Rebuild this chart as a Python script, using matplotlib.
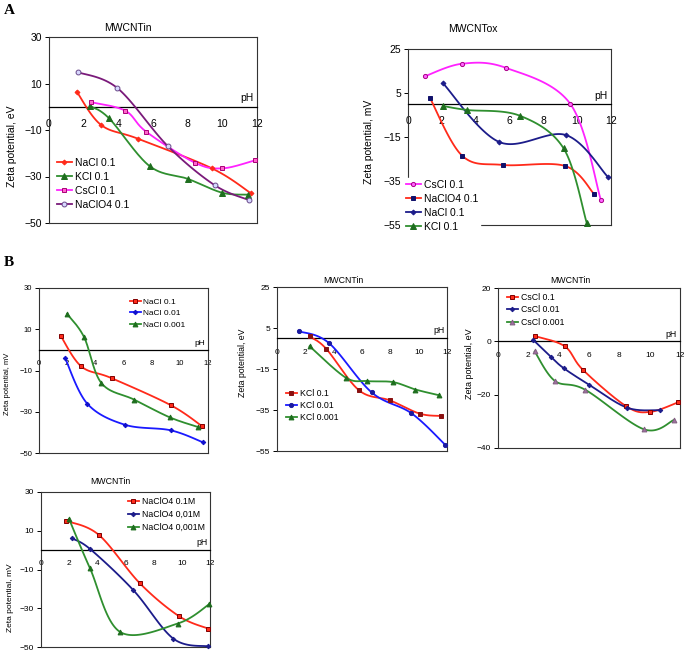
import numpy as np
import matplotlib
matplotlib.use("Agg")
import matplotlib.pyplot as plt
from matplotlib.lines import Line2D

plt.rcParams['font.family'] = ['Liberation Sans', 'DejaVu Sans']

W, H = 685, 651

# ---------------- data ----------------
# Panel A left: MWCNTin, 0.1 M
a1_nacl_x = [1.6, 3.0, 5.15, 9.4, 11.65]
a1_nacl_y = [6.5, -7.8, -13.8, -26.5, -37.2]
a1_kcl_x = [2.35, 3.47, 5.8, 8.0, 10.0, 11.5]
a1_kcl_y = [0.4, -5.0, -25.5, -31.0, -37.0, -37.8]
a1_cscl_x = [2.4, 4.4, 5.6, 8.4, 10.0, 11.9]
a1_cscl_y = [2.0, -1.7, -10.7, -24.0, -26.5, -23.0]
a1_naclo4_x = [1.65, 3.95, 6.85, 9.55, 11.55]
a1_naclo4_y = [14.9, 8.0, -16.9, -33.7, -40.2]

# Panel A right: MWCNTox, 0.1 M
a2_cscl_x = [1.0, 3.2, 5.8, 9.6, 11.4]
a2_cscl_y = [12.6, 18.3, 16.4, 0.0, -43.6]
a2_naclo4_x = [1.3, 3.2, 5.6, 9.3, 11.0]
a2_naclo4_y = [2.7, -23.5, -27.7, -28.2, -40.9]
a2_nacl_x = [2.07, 5.4, 9.33, 11.8]
a2_nacl_y = [9.4, -17.3, -14.1, -33.0]
a2_kcl_x = [2.07, 3.48, 6.6, 9.2, 10.56]
a2_kcl_y = [-0.9, -2.7, -5.3, -20.2, -53.9]

# Panel B1: NaCl
b1_01_x = [1.55, 3.0, 5.15, 9.35, 11.6]
b1_01_y = [6.7, -8.0, -13.7, -26.8, -37.1]
b1_001_x = [1.85, 3.43, 6.1, 9.35, 11.64]
b1_001_y = [-3.9, -26.1, -36.3, -39.0, -44.8]
b1_0001_x = [2.0, 3.2, 4.43, 6.75, 9.28, 11.29]
b1_0001_y = [17.4, 6.2, -16.1, -24.1, -32.7, -37.4]

# Panel B2: KCl
b2_01_x = [2.3, 3.47, 5.79, 7.97, 10.08, 11.6]
b2_01_y = [0.9, -5.1, -25.4, -30.3, -36.8, -37.9]
b2_001_x = [1.55, 3.66, 6.68, 9.49, 11.88]
b2_001_y = [3.4, -2.3, -26.4, -36.6, -52.0]
b2_0001_x = [2.3, 4.85, 6.37, 8.2, 9.77, 11.44]
b2_0001_y = [-3.9, -19.2, -20.9, -21.4, -25.0, -27.8]

# Panel B3: CsCl
b3_01_x = [2.42, 4.4, 5.6, 8.44, 10.0, 11.9]
b3_01_y = [2.0, -1.85, -10.7, -24.3, -26.5, -22.8]
b3_001_x = [2.31, 3.5, 4.34, 6.01, 8.52, 10.68]
b3_001_y = [0.6, -5.9, -10.1, -16.3, -24.9, -25.8]
b3_0001_x = [2.42, 3.74, 5.73, 9.63, 11.6]
b3_0001_y = [-3.8, -14.8, -18.1, -33.0, -29.5]

# Panel B4: NaClO4
b4_01_x = [1.78, 4.1, 7.03, 9.8, 11.86]
b4_01_y = [15.1, 7.9, -17.2, -34.1, -40.5]
b4_001_x = [2.18, 3.48, 6.56, 9.4, 11.86]
b4_001_y = [6.1, 0.6, -20.7, -45.7, -49.7]
b4_0001_x = [1.99, 3.48, 5.61, 9.7, 11.95]
b4_0001_y = [16.1, -9.4, -42.2, -37.9, -27.9]

xticks = [0, 2, 4, 6, 8, 10, 12]

# ---------------- helpers ----------------
RED = '#ff2a1a'
GREEN = '#2f8f2f'
MAG = '#ff22ff'
PURP = '#7a1a7a'
NAVY = '#1c1c8a'
BLUE = '#1a1aff'


def smooth(x, y, xr, yr, n=30):
    P = np.column_stack([np.asarray(x, float) / xr, np.asarray(y, float) / yr])
    out = []
    for i in range(len(P) - 1):
        p0 = P[i - 1] if i > 0 else P[i]
        p1, p2 = P[i], P[i + 1]
        p3 = P[i + 2] if i + 2 < len(P) else P[i + 1]
        c1 = p1 + (p2 - p0) / 6.0
        c2 = p2 - (p3 - p1) / 6.0
        t = np.linspace(0, 1, n)[:, None]
        seg = (1 - t) ** 3 * p1 + 3 * (1 - t) ** 2 * t * c1 + 3 * (1 - t) * t ** 2 * c2 + t ** 3 * p2
        out.append(seg if i == 0 else seg[1:])
    a = np.vstack(out)
    return a[:, 0] * xr, a[:, 1] * yr


def px_axes(fig, x0, x1, y0, y1):
    return fig.add_axes([x0 / W, 1 - y1 / H, (x1 - x0) / W, (y1 - y0) / H])


def setup(ax, ylim, yticks, tsize, pad, ylabel, lab_xy, lsize):
    ax.set_xlim(0, 12)
    ax.set_ylim(*ylim)
    ax.set_yticks(yticks)
    ax.set_xticks(xticks)
    ax.set_xticklabels([str(v) for v in xticks])
    for s in ['top', 'right', 'left']:
        ax.spines[s].set_color('#333333')
        ax.spines[s].set_linewidth(0.8)
    ax.spines['bottom'].set_position(('data', 0))
    ax.spines['bottom'].set_color('black')
    ax.spines['bottom'].set_linewidth(0.9)
    ax.axhline(ylim[0], color='#333333', lw=0.8, clip_on=False, zorder=2.4)
    ax.tick_params(axis='x', length=0, pad=pad, labelsize=tsize)
    ax.tick_params(axis='y', length=3, width=0.7, direction='out', labelsize=tsize, pad=2)
    ax.set_ylabel(ylabel, fontsize=lsize)
    ax.yaxis.set_label_coords(*lab_xy)
    ax.set_facecolor('none')


def series(ax, x, y, lc, marker, mfc, mec, ms, ylim):
    xr = 12.0
    yr = ylim[1] - ylim[0]
    sx, sy = smooth(x, y, xr, yr)
    ax.plot(sx, sy, color=lc, lw=1.3, zorder=3, clip_on=False)
    ax.plot(x, y, ls='none', marker=marker, mfc=mfc, mec=mec, ms=ms, mew=0.7, zorder=4, clip_on=False)
    return Line2D([], [], color=lc, lw=1.3, marker=marker, mfc=mfc, mec=mec, ms=ms, mew=0.7)


def legend(ax, fig, handles, labels, px, py, fs, ls, hl, white=False):
    lg = ax.legend(handles, labels, loc='upper left', bbox_to_anchor=(px / W, 1 - py / H),
                   bbox_transform=fig.transFigure, fontsize=fs, frameon=white,
                   borderaxespad=0, borderpad=0.2, handlelength=hl, handletextpad=0.3,
                   labelspacing=ls)
    if white:
        lg.get_frame().set_facecolor('white')
        lg.get_frame().set_edgecolor('white')
        lg.get_frame().set_alpha(1)
        lg.get_frame().set_boxstyle('square', pad=0)
    lg.set_zorder(10)
    return lg


fig = plt.figure(figsize=(W / 100, H / 100), dpi=100)
fig.patch.set_facecolor('white')

fig.text(4 / W, 1 - 10 / H, 'A', fontsize=11, fontweight='bold', family='Liberation Serif', va='center')
fig.text(4 / W, 1 - 263 / H, 'B', fontsize=11, fontweight='bold', family='Liberation Serif', va='center')

# ---------- A left ----------
ylim = (-50, 30)
ax = px_axes(fig, 49, 257, 37, 223)
setup(ax, ylim, [30, 10, -10, -30, -50], 7.5, 9, 'Zeta potential, eV', (-0.155, 0.41), 7.5)
h = [series(ax, a1_nacl_x, a1_nacl_y, RED, 'D', RED, RED, 2.5, ylim),
     series(ax, a1_kcl_x, a1_kcl_y, GREEN, '^', '#1e6e1e', '#1e6e1e', 4, ylim),
     series(ax, a1_cscl_x, a1_cscl_y, MAG, 's', '#ff66cc', '#aa0077', 3, ylim),
     series(ax, a1_naclo4_x, a1_naclo4_y, PURP, 'o', '#d8d8ff', '#6a4a8a', 3.5, ylim)]
legend(ax, fig, h, ['NaCl 0.1', 'KCl 0.1', 'CsCl 0.1', 'NaClO4 0.1'], 55, 156, 7.5, 0.38, 1.4)
ax.text(11.8, 1.5, 'pH', ha='right', va='bottom', fontsize=7.5)
fig.text(128 / W, 1 - 28 / H, 'MWCNTin', ha='center', va='center', fontsize=7.5)

# ---------- A right ----------
ylim = (-55, 25)
ax = px_axes(fig, 408, 611, 49, 225)
setup(ax, ylim, [25, 5, -15, -35, -55], 7.5, 9, 'Zeta potential, mV', (-0.167, 0.47), 7.5)
h = [series(ax, a2_cscl_x, a2_cscl_y, MAG, 'o', '#ff66ff', '#aa0088', 3, ylim),
     series(ax, a2_naclo4_x, a2_naclo4_y, RED, 's', '#10106a', '#10106a', 3.5, ylim),
     series(ax, a2_nacl_x, a2_nacl_y, NAVY, 'D', NAVY, NAVY, 2.5, ylim),
     series(ax, a2_kcl_x, a2_kcl_y, GREEN, '^', '#1e6e1e', '#1e6e1e', 4, ylim)]
legend(ax, fig, h, ['CsCl 0.1', 'NaClO4 0.1', 'NaCl 0.1', 'KCl 0.1'], 404, 178, 7.5, 0.38, 1.4, white=True)
ax.text(11.8, 1.5, 'pH', ha='right', va='bottom', fontsize=7.5)
fig.text(473 / W, 1 - 29 / H, 'MWCNTox', ha='center', va='center', fontsize=7.5)

# ---------- B1 NaCl ----------
ylim = (-50, 30)
ax = px_axes(fig, 39, 208, 288, 453)
setup(ax, ylim, [30, 10, -10, -30, -50], 5.5, 7, 'Zeta potential, mV', (-0.166, 0.42), 5.5)
h = [series(ax, b1_01_x, b1_01_y, RED, 's', RED, '#800000', 3, ylim),
     series(ax, b1_001_x, b1_001_y, BLUE, 'D', '#1010cc', '#1010cc', 2.3, ylim),
     series(ax, b1_0001_x, b1_0001_y, GREEN, '^', '#1e6e1e', '#1e6e1e', 3.5, ylim)]
legend(ax, fig, h, ['NaCl 0.1', 'NaCl 0.01', 'NaCl 0.001'], 128, 296, 6, 0.45, 1.3)
ax.text(11.8, 1.5, 'pH', ha='right', va='bottom', fontsize=6)

# ---------- B2 KCl ----------
ylim = (-55, 25)
ax = px_axes(fig, 277, 447, 287, 451)
setup(ax, ylim, [25, 5, -15, -35, -55], 6, 8, 'Zeta potential, eV', (-0.176, 0.54), 6.3)
h = [series(ax, b2_01_x, b2_01_y, RED, 's', '#8a1010', '#8a1010', 3, ylim),
     series(ax, b2_001_x, b2_001_y, BLUE, 'o', '#1a1aa0', '#1a1aa0', 3, ylim),
     series(ax, b2_0001_x, b2_0001_y, GREEN, '^', '#1e6e1e', '#1e6e1e', 3.5, ylim)]
legend(ax, fig, h, ['KCl 0.1', 'KCl 0.01', 'KCl 0.001'], 284, 387, 6.3, 0.35, 1.3)
ax.text(11.8, 1.5, 'pH', ha='right', va='bottom', fontsize=6.3)
fig.text(343 / W, 1 - 280 / H, 'MWCNTin', ha='center', va='center', fontsize=6.3)

# ---------- B3 CsCl ----------
ylim = (-40, 20)
ax = px_axes(fig, 498, 680, 288, 448)
setup(ax, ylim, [20, 0, -20, -40], 6, 8, 'Zeta potential, eV', (-0.13, 0.53), 6.5)
h = [series(ax, b3_01_x, b3_01_y, RED, 's', RED, '#800000', 3, ylim),
     series(ax, b3_001_x, b3_001_y, NAVY, 'D', NAVY, NAVY, 2.3, ylim),
     series(ax, b3_0001_x, b3_0001_y, GREEN, '^', '#a070a0', '#806080', 3.5, ylim)]
legend(ax, fig, h, ['CsCl 0.1', 'CsCl 0.01', 'CsCl 0.001'], 505, 291, 6.3, 0.4, 1.3)
ax.text(11.8, 1.0, 'pH', ha='right', va='bottom', fontsize=6.3)
fig.text(570 / W, 1 - 280 / H, 'MWCNTin', ha='center', va='center', fontsize=6.3)

# ---------- B4 NaClO4 ----------
ylim = (-50, 30)
ax = px_axes(fig, 41, 210, 492, 647)
setup(ax, ylim, [30, 10, -10, -30, -50], 6, 7, 'Zeta potential, mV', (-0.16, 0.32), 6)
h = [series(ax, b4_01_x, b4_01_y, RED, 's', RED, '#800000', 3, ylim),
     series(ax, b4_001_x, b4_001_y, NAVY, 'D', NAVY, NAVY, 2.3, ylim),
     series(ax, b4_0001_x, b4_0001_y, GREEN, '^', '#1e6e1e', '#1e6e1e', 3.5, ylim)]
legend(ax, fig, h, ['NaClO4 0.1M', 'NaClO4 0,01M', 'NaClO4 0,001M'], 126, 495, 6.3, 0.45, 1.3)
ax.text(11.8, 1.5, 'pH', ha='right', va='bottom', fontsize=6.3)
fig.text(110 / W, 1 - 482 / H, 'MWCNTin', ha='center', va='center', fontsize=6.3)

fig.savefig('out.png', dpi=100)
